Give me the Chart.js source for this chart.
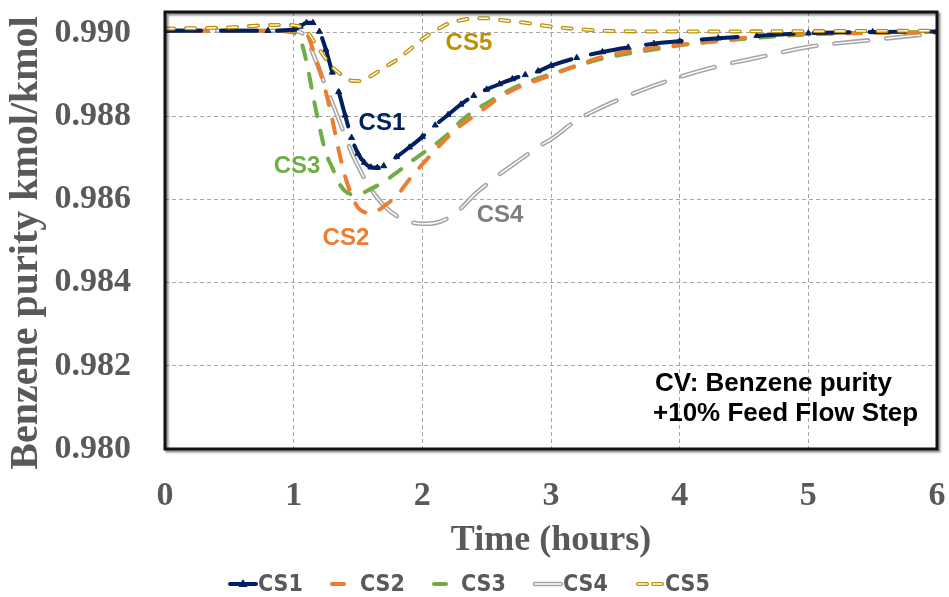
<!DOCTYPE html>
<html>
<head>
<meta charset="utf-8">
<script src="https://cdn.jsdelivr.net/npm/chart.js@4/dist/chart.umd.min.js"></script>
<style>
  html, body { margin: 0; padding: 0; background: #ffffff; }
  canvas { display: block; }
</style>
</head>
<body>
<canvas id="chart" width="949" height="597"></canvas>
<script>
// Benzene purity response to a +10% feed flow step, five control structures.

const xTicks = [0, 1, 2, 3, 4, 5, 6];
const yTicks = [0.980, 0.982, 0.984, 0.986, 0.988, 0.990];

const timeCS1 = [0, 0.8, 1.0, 1.05, 1.1, 1.15, 1.2, 1.25, 1.3, 1.35, 1.4, 1.45, 1.5, 1.55, 1.6, 1.65, 1.7, 1.8, 1.9, 2.0, 2.1, 2.2, 2.3, 2.4, 2.5, 2.6, 2.7, 2.8, 2.9, 3.0, 3.2, 3.4, 3.6, 3.8, 4.0, 4.3, 4.6, 5.0, 5.5, 6.0];
const cs1 = [0.99005, 0.99005, 0.99008, 0.99015, 0.99024, 0.99024, 0.99003, 0.98960, 0.98905, 0.98858, 0.98802, 0.98748, 0.98710, 0.98688, 0.98677, 0.98676, 0.98680, 0.98702, 0.98725, 0.98750, 0.98778, 0.98803, 0.98828, 0.98849, 0.98864, 0.98877, 0.98889, 0.98899, 0.98908, 0.98921, 0.98940, 0.98954, 0.98965, 0.98974, 0.98980, 0.98987, 0.98993, 0.98999, 0.99002, 0.99003];

const timeCS2 = [0, 0.9, 1.0, 1.05, 1.1, 1.15, 1.2, 1.25, 1.3, 1.35, 1.4, 1.45, 1.5, 1.55, 1.6, 1.65, 1.7, 1.8, 1.9, 2.0, 2.1, 2.2, 2.3, 2.4, 2.5, 2.6, 2.7, 2.8, 2.9, 3.0, 3.2, 3.4, 3.6, 3.8, 4.0, 4.3, 4.6, 5.0, 5.5, 6.0];
const cs2 = [0.99005, 0.99005, 0.99005, 0.99003, 0.98998, 0.98960, 0.98912, 0.98858, 0.98792, 0.98718, 0.98655, 0.98610, 0.98580, 0.98569, 0.98567, 0.98572, 0.98583, 0.98608, 0.98648, 0.98684, 0.98718, 0.98750, 0.98778, 0.98800, 0.98822, 0.98845, 0.98862, 0.98876, 0.98887, 0.98898, 0.98922, 0.98942, 0.98955, 0.98964, 0.98971, 0.98981, 0.98991, 0.98997, 0.99000, 0.99001];

const timeCS3 = [0, 0.9, 0.95, 1.0, 1.05, 1.1, 1.15, 1.2, 1.25, 1.3, 1.35, 1.4, 1.45, 1.5, 1.6, 1.7, 1.8, 1.9, 2.0, 2.1, 2.2, 2.3, 2.4, 2.5, 2.6, 2.7, 2.8, 2.9, 3.0, 3.2, 3.4, 3.6, 3.8, 4.0, 4.3, 4.6, 5.0, 5.5, 6.0];
const cs3 = [0.99005, 0.99005, 0.99003, 0.99000, 0.98985, 0.98930, 0.98850, 0.98775, 0.98712, 0.98676, 0.98640, 0.98620, 0.98612, 0.98612, 0.98625, 0.98642, 0.98664, 0.98688, 0.98710, 0.98732, 0.98757, 0.98788, 0.98812, 0.98831, 0.98849, 0.98866, 0.98879, 0.98891, 0.98901, 0.98920, 0.98938, 0.98950, 0.98960, 0.98970, 0.98980, 0.98988, 0.98996, 0.99000, 0.99002];

const timeCS4 = [0, 0.9, 1.0, 1.05, 1.1, 1.15, 1.2, 1.25, 1.3, 1.35, 1.4, 1.45, 1.5, 1.55, 1.6, 1.7, 1.8, 1.9, 2.0, 2.1, 2.2, 2.3, 2.4, 2.5, 2.6, 2.7, 2.8, 2.9, 3.0, 3.2, 3.4, 3.6, 3.8, 4.0, 4.3, 4.6, 5.0, 5.5, 6.0];
const cs4 = [0.99005, 0.99005, 0.99004, 0.99002, 0.98985, 0.98950, 0.98911, 0.98870, 0.98832, 0.98792, 0.98752, 0.98712, 0.98680, 0.98650, 0.98625, 0.98585, 0.98560, 0.98546, 0.98541, 0.98543, 0.98555, 0.98578, 0.98610, 0.98636, 0.98660, 0.98682, 0.98704, 0.98726, 0.98744, 0.98790, 0.98822, 0.98849, 0.98873, 0.98894, 0.98920, 0.98940, 0.98966, 0.98983, 0.98999];

const timeCS5 = [0, 0.5, 0.7, 0.9, 1.0, 1.05, 1.1, 1.15, 1.2, 1.25, 1.3, 1.35, 1.4, 1.45, 1.5, 1.55, 1.6, 1.7, 1.8, 1.9, 2.0, 2.1, 2.2, 2.3, 2.4, 2.5, 2.6, 2.8, 3.0, 3.2, 3.5, 4.0, 5.0, 6.0];
const cs5 = [0.99010, 0.99013, 0.99017, 0.99019, 0.99018, 0.99015, 0.99005, 0.98983, 0.98960, 0.98937, 0.98918, 0.98904, 0.98893, 0.98885, 0.98884, 0.98889, 0.98896, 0.98916, 0.98935, 0.98959, 0.98985, 0.99005, 0.99022, 0.99030, 0.99035, 0.99035, 0.99031, 0.99024, 0.99015, 0.99009, 0.99004, 0.99003, 0.99004, 0.99005];

const seriesNames = ['CS1', 'CS2', 'CS3', 'CS4', 'CS5'];
// Curve label anchors in axis units: [time, purity]
const labelAnchors = [[1.686, 0.98782], [1.406, 0.98507], [1.026, 0.98679], [2.604, 0.98562], [2.362, 0.98974]];
const noteLines = ['CV: Benzene purity', '+10% Feed Flow Step'];
const xTitle = 'Time (hours)';
const yTitle = 'Benzene purity kmol/kmol';

const NAVY = '#002060', ORANGE = '#ED7D31', GREEN = '#70AD47', GRAY = '#A5A5A5', GOLD = '#BF9000';
const labelColors = [NAVY, ORANGE, GREEN, '#7F7F7F', GOLD];
const AXIS_TEXT = '#595959';
const SERIF = '"Liberation Serif", "Times New Roman", serif';

const pts = (t, v) => t.map((x, i) => ({ x: x, y: v[i] }));

const datasets = [
  { label: 'CS5', data: pts(timeCS5, cs5), borderColor: '#FFFFFF', borderWidth: 1.4, borderDash: [9, 12],
    borderCapStyle: 'round', pointRadius: 0, order: 0 },
  { label: 'CS5', data: pts(timeCS5, cs5), borderColor: GOLD, borderWidth: 4, borderDash: [9, 12],
    borderCapStyle: 'round', pointRadius: 0, order: 1 },
  { label: 'CS1', data: pts(timeCS1, cs1), borderColor: NAVY, borderWidth: 4, borderDash: [36, 20],
    borderCapStyle: 'round', pointStyle: 'triangle', pointRadius: 3.5, pointBackgroundColor: NAVY,
    pointBorderColor: NAVY, pointBorderWidth: 1, order: 2 },
  { label: 'CS2', data: pts(timeCS2, cs2), borderColor: ORANGE, borderWidth: 4, borderDash: [14, 15],
    borderCapStyle: 'round', pointRadius: 0, order: 3 },
  { label: 'CS3', data: pts(timeCS3, cs3), borderColor: GREEN, borderWidth: 4, borderDash: [14, 15],
    borderCapStyle: 'round', pointRadius: 0, order: 4 },
  { label: 'CS4', data: pts(timeCS4, cs4), borderColor: '#FFFFFF', borderWidth: 1.4, borderDash: [34, 18],
    borderCapStyle: 'round', pointRadius: 0, order: 5 },
  { label: 'CS4', data: pts(timeCS4, cs4), borderColor: GRAY, borderWidth: 4.5, borderDash: [34, 18],
    borderCapStyle: 'round', pointRadius: 0, order: 6 }
];
datasets.forEach(d => { d.fill = false; d.cubicInterpolationMode = 'monotone'; });

// Frame, y title, curve labels, note text and the legend row
const decorations = {
  id: 'decorations',
  afterDraw(chart) {
    const ctx = chart.ctx;
    const a = chart.chartArea;
    const xs = chart.scales.x, ys = chart.scales.y;

    // plot frame with a soft shadow
    ctx.save();
    ctx.shadowColor = 'rgba(0,0,0,0.45)';
    ctx.shadowOffsetX = 2;
    ctx.shadowOffsetY = 2;
    ctx.shadowBlur = 2;
    ctx.strokeStyle = '#111111';
    ctx.lineWidth = 3;
    ctx.strokeRect(a.left, a.top, a.right - a.left, a.bottom - a.top);
    ctx.restore();

    // vertical axis title
    ctx.save();
    ctx.translate(27, 243);
    ctx.rotate(-Math.PI / 2);
    ctx.font = 'bold 40px ' + SERIF;
    ctx.fillStyle = AXIS_TEXT;
    ctx.textAlign = 'center';
    ctx.textBaseline = 'middle';
    ctx.fillText(yTitle, 0, 0);
    ctx.restore();

    // curve labels
    ctx.save();
    ctx.font = 'bold 24px "Liberation Sans", Arial, sans-serif';
    ctx.textAlign = 'center';
    ctx.textBaseline = 'middle';
    seriesNames.forEach((n, i) => {
      ctx.fillStyle = labelColors[i];
      ctx.fillText(n, xs.getPixelForValue(labelAnchors[i][0]), ys.getPixelForValue(labelAnchors[i][1]));
    });
    ctx.restore();

    // case note
    ctx.save();
    ctx.font = 'bold 26px "Liberation Sans", Arial, sans-serif';
    ctx.fillStyle = '#000000';
    ctx.textAlign = 'left';
    ctx.textBaseline = 'alphabetic';
    ctx.fillText(noteLines[0], a.right - 282, a.bottom - 58);
    ctx.fillText(noteLines[1], a.right - 284, a.bottom - 28);
    ctx.restore();

    // legend
    const ly = 584;
    ctx.save();
    ctx.font = 'bold 23px "Liberation Sans Narrow", "DejaVu Sans Condensed", sans-serif';
    ctx.textBaseline = 'middle';
    ctx.textAlign = 'left';
    const seg = (x1, x2, color, w) => {
      ctx.beginPath();
      ctx.lineCap = 'round';
      ctx.strokeStyle = color;
      ctx.lineWidth = w;
      ctx.moveTo(x1, ly); ctx.lineTo(x2, ly);
      ctx.stroke();
    };
    seg(230, 256, NAVY, 4);
    ctx.fillStyle = NAVY;
    ctx.beginPath();
    ctx.moveTo(243, ly - 5); ctx.lineTo(247.5, ly + 3); ctx.lineTo(238.5, ly + 3); ctx.closePath(); ctx.fill();
    seg(332, 344, ORANGE, 4);
    seg(434, 446, GREEN, 4);
    seg(535, 561, GRAY, 4.5);
    seg(535, 561, '#FFFFFF', 1.4);
    seg(638, 647, GOLD, 4); seg(638, 647, '#FFFFFF', 1.4);
    seg(653, 662, GOLD, 4); seg(653, 662, '#FFFFFF', 1.4);
    ctx.fillStyle = AXIS_TEXT;
    const textX = [258, 360, 461, 563, 665];
    seriesNames.forEach((n, i) => ctx.fillText(n, textX[i], ly + 1));
    ctx.restore();
  }
};

const tickFont = { family: SERIF, size: 34, weight: 'bold' };
const noPad = s => { s.paddingTop = 0; s.paddingBottom = 0; s.paddingLeft = 0; s.paddingRight = 0; };

new Chart(document.getElementById('chart'), {
  type: 'line',
  data: { datasets: datasets },
  plugins: [decorations],
  options: {
    responsive: false,
    animation: false,
    layout: { padding: { top: 12, right: 12, left: 0, bottom: 0 } },
    plugins: { legend: { display: false }, tooltip: { enabled: false } },
    scales: {
      x: {
        type: 'linear', min: 0, max: 6,
        afterBuildTicks(s) { s.ticks = xTicks.map(v => ({ value: v })); },
        afterFit(s) { s.height = 148; noPad(s); },
        ticks: { font: tickFont, color: AXIS_TEXT, padding: 27, maxRotation: 0, callback: v => String(v) },
        grid: { color: '#A6A6A6', lineWidth: 1, drawTicks: false },
        border: { display: false, dash: [4, 3] },
        title: { display: true, text: xTitle, color: AXIS_TEXT,
          font: { family: SERIF, size: 36, weight: 'bold' },
          padding: { top: 0, bottom: 35 } }
      },
      y: {
        type: 'linear', min: 0.980, max: 0.9905,
        afterBuildTicks(s) { s.ticks = yTicks.map(v => ({ value: v })); },
        afterFit(s) { s.width = 165; noPad(s); },
        ticks: { font: tickFont, color: AXIS_TEXT, padding: 34, callback: v => v.toFixed(3) },
        grid: { color: '#A6A6A6', lineWidth: 1, drawTicks: false },
        border: { display: false, dash: [4, 3] },
        title: { display: false }
      }
    }
  }
});
</script>
</body>
</html>
